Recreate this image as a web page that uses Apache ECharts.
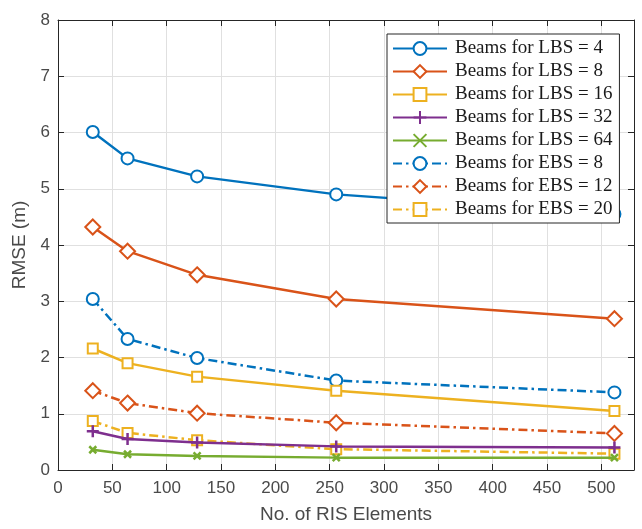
<!DOCTYPE html>
<html>
<head>
<meta charset="utf-8">
<script src="https://cdn.jsdelivr.net/npm/echarts@6/dist/echarts.min.js"></script>
<style>
  html, body { margin: 0; padding: 0; background: #fff; }
  #chart { width: 642px; height: 529px; }
</style>
</head>
<body>
<div id="chart"></div>
<script>
// Number of RIS elements (x positions of every curve)
const risElements = [32, 64, 128, 256, 512];

// RMSE (m) for each beam configuration
const lbs4  = [6.01, 5.54, 5.22, 4.90, 4.55];
const lbs8  = [4.32, 3.89, 3.47, 3.04, 2.69];
const lbs16 = [2.16, 1.90, 1.66, 1.41, 1.05];
const lbs32 = [0.69, 0.55, 0.49, 0.42, 0.40];
const lbs64 = [0.36, 0.28, 0.25, 0.22, 0.22];
const ebs8  = [3.04, 2.33, 1.99, 1.59, 1.38];
const ebs12 = [1.41, 1.19, 1.01, 0.84, 0.65];
const ebs20 = [0.87, 0.66, 0.53, 0.37, 0.29];

const seriesNames = [
  'Beams for LBS = 4', 'Beams for LBS = 8', 'Beams for LBS = 16',
  'Beams for LBS = 32', 'Beams for LBS = 64',
  'Beams for EBS = 8', 'Beams for EBS = 12', 'Beams for EBS = 20'
];
const seriesValues = [lbs4, lbs8, lbs16, lbs32, lbs64, ebs8, ebs12, ebs20];

const BLUE = '#0072BD', RED = '#D95319', GOLD = '#EDB120', PURPLE = '#7E2F8E', GREEN = '#77AC30';
const plusPath = 'path://M5,0L5,10M0,5L10,5';
const crossPath = 'path://M0,0L10,10M10,0L0,10';
const dashDot = [9, 4, 2.5, 4];

const styles = [
  { color: BLUE,   symbol: 'emptyCircle',  size: 12, dash: 'solid' },
  { color: RED,    symbol: 'emptyDiamond', size: 15, dash: 'solid' },
  { color: GOLD,   symbol: 'emptyRect',    size: 10, dash: 'solid' },
  { color: PURPLE, symbol: plusPath,       size: 12, dash: 'solid' },
  { color: GREEN,  symbol: crossPath,      size: 7,  dash: 'solid' },
  { color: BLUE,   symbol: 'emptyCircle',  size: 12, dash: dashDot },
  { color: RED,    symbol: 'emptyDiamond', size: 15, dash: dashDot },
  { color: GOLD,   symbol: 'emptyRect',    size: 10, dash: dashDot }
];

const series = seriesNames.map((name, i) => {
  const s = styles[i];
  return {
    name: name,
    type: 'line',
    xAxisIndex: 0,
    yAxisIndex: 0,
    data: risElements.map((x, j) => [x, seriesValues[i][j]]),
    symbol: s.symbol,
    symbolSize: s.size,
    showAllSymbol: true,
    lineStyle: { color: s.color, width: 2.5, type: s.dash },
    itemStyle: { color: s.color, borderColor: s.color, borderWidth: 2.5 },
    emphasis: { disabled: true },
    animation: false,
    z: 10 - i
  };
});

const AXIS = '#262626';
const LABEL = '#4a4a4a';
const FONT = '"Liberation Sans", Arial, sans-serif';

function xAxisDef(pos, labels) {
  return {
    type: 'value', position: pos, min: 0, max: 530, interval: 50,
    axisLine: { show: true, onZero: false, lineStyle: { color: AXIS, width: 1 } },
    axisTick: { show: true, inside: true, length: 6, lineStyle: { color: AXIS } },
    axisLabel: { show: labels, showMaxLabel: false, color: LABEL, fontSize: 17, fontFamily: FONT, margin: 10 },
    splitLine: { show: labels, lineStyle: { color: '#e0e0e0', width: 1 } },
    name: labels ? 'No. of RIS Elements' : '',
    nameLocation: 'middle', nameGap: 35,
    nameTextStyle: { color: LABEL, fontSize: 19, fontFamily: FONT }
  };
}
function yAxisDef(pos, labels) {
  return {
    type: 'value', position: pos, min: 0, max: 8, interval: 1,
    axisLine: { show: true, onZero: false, lineStyle: { color: AXIS, width: 1 } },
    axisTick: { show: true, inside: true, length: 6, lineStyle: { color: AXIS } },
    axisLabel: { show: labels, color: LABEL, fontSize: 17, fontFamily: FONT, margin: 8 },
    splitLine: { show: labels, lineStyle: { color: '#e0e0e0', width: 1 } },
    name: labels ? 'RMSE (m)' : '',
    nameLocation: 'middle', nameGap: 21,
    nameTextStyle: { color: LABEL, fontSize: 19, fontFamily: FONT }
  };
}

const chart = echarts.init(document.getElementById('chart'), null, { renderer: 'canvas' });
chart.setOption({
  animation: false,
  backgroundColor: '#fff',
  grid: { left: 58, top: 20, right: 8, bottom: 56, containLabel: false },
  xAxis: [xAxisDef('bottom', true), xAxisDef('top', false)],
  yAxis: [yAxisDef('left', true), yAxisDef('right', false)],
  legend: {
    orient: 'vertical',
    left: 387, top: 34,
    backgroundColor: '#fff',
    borderColor: AXIS, borderWidth: 1,
    padding: [5, 7, 4, 5],
    itemWidth: 54, itemHeight: 16, itemGap: 4,
    textStyle: { color: '#1a1a1a', fontSize: 19, fontFamily: '"Liberation Serif", "Times New Roman", serif', padding: [0, 0, 0, 3] },
    data: seriesNames,
    selectedMode: false,
    z: 20
  },
  series: series
});
</script>
</body>
</html>
